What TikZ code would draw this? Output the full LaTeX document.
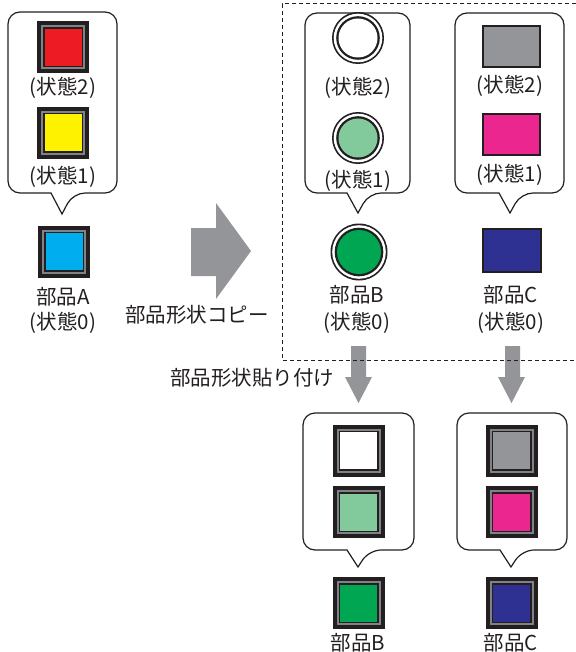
\documentclass[tikz,border=0pt]{standalone}
\usepackage{fontspec}
\setmainfont{Noto Sans CJK JP}
\definecolor{ink}{HTML}{231F20}
\definecolor{framegray}{HTML}{808285}
\definecolor{arrowgray}{HTML}{939598}
\definecolor{cred}{HTML}{ED1C24}
\definecolor{cyellow}{HTML}{FFF200}
\definecolor{cblue}{HTML}{00AEEF}
\definecolor{clgreen}{HTML}{82CA9C}
\definecolor{cgreen}{HTML}{00A651}
\definecolor{cgray}{HTML}{939598}
\definecolor{cpink}{HTML}{EC268F}
\definecolor{cnavy}{HTML}{2E3192}
\tikzset{
  lbl/.style={inner sep=0pt, font=\fontsize{20.5}{24}\selectfont, text=ink},
  sqouter/.style={rectangle, fill=ink, minimum size=52pt, inner sep=0pt},
  sqgray/.style={rectangle, fill=framegray, minimum size=44pt, inner sep=0pt},
  sqblack/.style={rectangle, fill=ink, minimum size=40pt, inner sep=0pt},
  sqfill/.style={rectangle, minimum size=37pt, inner sep=0pt},
  plainrect/.style={rectangle, draw=ink, line width=2pt, inner sep=0pt},
  balloon/.style={draw=ink, line width=1.2pt, fill=white},
  bigarrow/.style={fill=arrowgray, draw=none},
  dashbox/.style={draw=ink, line width=1pt, dash pattern=on 4pt off 3pt},
}
\newcommand{\sqbtn}[3]{%
  \node[sqouter] (#1) at (#2) {};
  \node[sqgray] at (#1) {};
  \node[sqblack] at (#1) {};
  \node[sqfill, fill=#3] at (#1) {};
}
\newcommand{\ringbtn}[4]{% name, pos, radius, color
  \node[circle, fill=ink, minimum size=2*#3 pt, inner sep=0pt] (#1) at (#2) {};
  \node[circle, fill=white, minimum size=2*#3 pt - 3.4pt, inner sep=0pt] at (#1) {};
  \node[circle, fill=ink, minimum size=2*#3 pt - 8.4pt, inner sep=0pt] at (#1) {};
  \node[circle, fill=#4, minimum size=2*#3 pt - 13pt, inner sep=0pt] at (#1) {};
}
% balloon: left, right, top, bottom, tip x, tip y
\newcommand{\callout}[6]{%
  \draw[balloon, rounded corners=12pt] (#5-11,#4) -- (#1,#4) -- (#1,#3) -- (#2,#3) -- (#2,#4) -- (#5+11,#4) [sharp corners] -- (#5,#6) -- cycle;
}
\begin{document}
\begin{tikzpicture}[x=1pt, y=-1pt]
\useasboundingbox (0,0) rectangle (575,652);
\fill[white] (0,0) rectangle (575,652);

% ---- callouts (top row)
\callout{8}{117}{12}{193}{62}{214}
\callout{305}{410}{13}{193}{358}{213}
\callout{455}{564}{13}{193}{510}{213}

% ---- part A
\sqbtn{a2}{63,47.5}{cred}
\node[lbl] (ta2) at (63,88) {(状態2)};
\sqbtn{a1}{63,133}{cyellow}
\node[lbl] (ta1) at (63,177) {(状態1)};
\sqbtn{a0}{64,251.5}{cblue}
\node[lbl] (ta0) at (63,297) {部品A};
\node[lbl] (ta0s) at (63,323) {(状態0)};

% ---- part B
\ringbtn{b2}{358,38}{26}{white}
\node[lbl] (tb2) at (358,88) {(状態2)};
\ringbtn{b1}{358,138}{26}{clgreen}
\node[lbl] (tb1) at (358,181) {(状態1)};
\ringbtn{b0}{359,252}{28.5}{cgreen}
\node[lbl] (tb0) at (357,295) {部品B};
\node[lbl] (tb0s) at (357,323) {(状態0)};

% ---- part C
\node[plainrect, fill=cgray, minimum width=57pt, minimum height=41pt] (c2) at (511,47) {};
\node[lbl] (tc2) at (510,86) {(状態2)};
\node[plainrect, fill=cpink, minimum width=57pt, minimum height=41pt] (c1) at (511,135) {};
\node[lbl] (tc1) at (510,175) {(状態1)};
\node[plainrect, fill=cnavy, minimum width=58pt, minimum height=43pt] (c0) at (511.5,250) {};
\node[lbl] (tc0) at (511,295) {部品C};
\node[lbl] (tc0s) at (511,323) {(状態0)};

% ---- copy arrow
\fill[bigarrow] (191,228) -- (216,228) -- (216,203) -- (251,251) -- (216,299) -- (216,276) -- (191,276) -- cycle;
\node[lbl] (copy) at (197,315) {部品形状コピー};

% ---- paste arrows
\fill[bigarrow] (351,346) -- (366,346) -- (366,377) -- (372,377) -- (358.5,403) -- (345,377) -- (351,377) -- cycle;
\fill[bigarrow] (505,346) -- (520,346) -- (520,377) -- (525,377) -- (511.5,403) -- (498,377) -- (505,377) -- cycle;
\node[lbl] (paste) at (252,378) {部品形状貼り付け};

% ---- dashed selection frame
\draw[dashbox] (576,4) -- (282,4) -- (282,360) -- (576,360);

% ---- callouts (bottom row)
\callout{303}{414}{413}{550}{358}{567}
\callout{457}{567}{413}{550}{511}{567}

\sqbtn{d2}{358.5,450.5}{white}
\sqbtn{d1}{358.5,512}{clgreen}
\sqbtn{d0}{358.5,603}{cgreen}
\node[lbl] (td0) at (358,643) {部品B};

\sqbtn{e2}{511.5,450.5}{cgray}
\sqbtn{e1}{511.5,512}{cpink}
\sqbtn{e0}{511.5,603}{cnavy}
\node[lbl] (te0) at (511,643) {部品C};
\end{tikzpicture}
\end{document}
